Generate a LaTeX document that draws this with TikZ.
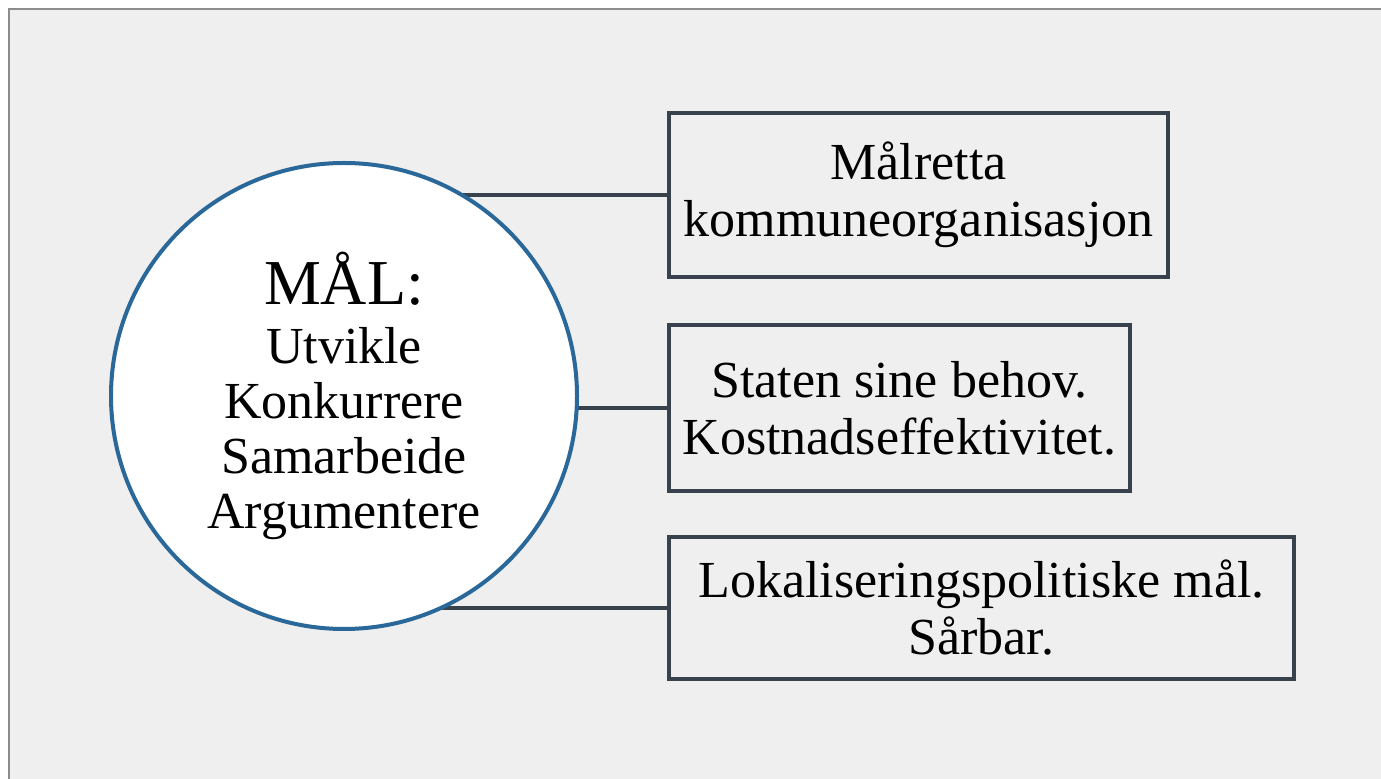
\documentclass[tikz,border=0pt]{standalone}
\usepackage{fontspec}
\setmainfont{Liberation Serif}
\usetikzlibrary{backgrounds}
\definecolor{panelgray}{HTML}{EFEFEF}
\definecolor{framegray}{HTML}{8C8C8C}
\definecolor{goalblue}{HTML}{2A6899}
\definecolor{boxslate}{HTML}{37424D}
\begin{document}
\begin{tikzpicture}[
    x=0.5pt, y=-0.5pt,
    goal/.style={circle, draw=goalblue, fill=white, line width=2pt, minimum size=233pt, inner sep=0pt,
        align=center, font=\fontsize{26}{27.5}\selectfont},
    aim/.style={rectangle, draw=boxslate, fill=panelgray, line width=2pt, inner sep=0pt,
        align=center, font=\fontsize{26}{28.5}\selectfont},
    link/.style={draw=boxslate, line width=1.8pt}
]
    \useasboundingbox (0,0) rectangle (1381,779);

    % Goal circle
    \node[goal] (goal) at (344,396) {{\fontsize{32}{32}\selectfont MÅL:}\\[2pt]
        Utvikle\\ Konkurrere\\ Samarbeide\\ Argumentere};

    % Aims
    \node[aim, minimum width=249.5pt, minimum height=82pt] (aim1) at (918.5,195)
        {Målretta\\ kommuneorganisasjon};
    \node[aim, minimum width=230.5pt, minimum height=83pt] (aim2) at (899.5,408)
        {Staten sine behov.\\ Kostnadseffektivitet.};
    \node[aim, minimum width=312.5pt, minimum height=71pt] (aim3) at (981.5,608)
        {Lokaliseringspolitiske mål.\\ Sårbar.};

    \begin{scope}[on background layer]
        % Panel
        \fill[white] (0,0) rectangle (1381,779);
        \fill[panelgray] (9,9) rectangle (1381,779);
        \draw[framegray, line width=1.2pt] (9,779) -- (9,9) -- (1381,9);
        % Links
        \draw[link] (aim1.west) -- (aim1.west -| goal.center);
        \draw[link] (aim2.west) -- (aim2.west -| goal.center);
        \draw[link] (aim3.west) -- (aim3.west -| goal.center);
    \end{scope}
\end{tikzpicture}
\end{document}
